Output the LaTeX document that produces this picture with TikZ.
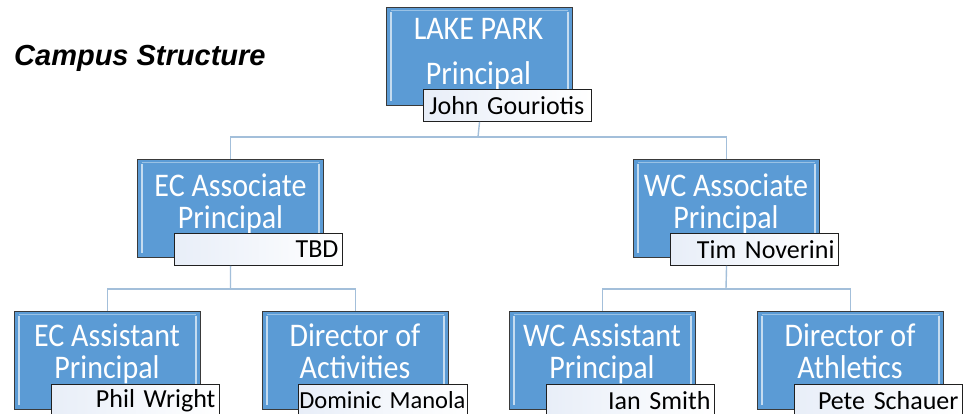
\documentclass[tikz,border=0pt]{standalone}
\usepackage{fontspec}
\usepackage{graphicx}
\setmainfont{Carlito}
\newfontfamily\titlefont{Liberation Sans}
\definecolor{boxblue}{HTML}{5B9BD5}
\definecolor{boxborder}{HTML}{3A3A3A}
\definecolor{bevel}{HTML}{C5DCF0}
\definecolor{namefillL}{HTML}{E8EEF8}
\definecolor{namefillR}{HTML}{FFFFFF}
\definecolor{nameborder}{HTML}{202020}
\definecolor{connline}{HTML}{A3BFDA}
\newcommand{\tallstack}[2]{\scalebox{1}[1.1]{\fontsize{30}{#1}\selectfont\begin{tabular}{@{}c@{}}#2\end{tabular}}}
\newcommand{\nm}[1]{\makebox[\linewidth][r]{#1}}
\begin{document}
\begin{tikzpicture}[x=1pt,y=-1pt,
  orgbox/.style={draw=boxborder, fill=boxblue, line width=1.1pt, minimum width=186pt, minimum height=98pt, anchor=north west, inner sep=0pt},
  bevelline/.style={draw=bevel, line width=1.6pt},
  boxtext/.style={text=white, inner sep=0pt},
  namebox/.style={draw=nameborder, left color=namefillL, right color=namefillR, line width=0.9pt, minimum height=32pt, text width=160pt, inner xsep=4pt, inner ysep=0pt, anchor=north west, font=\fontsize{26}{28}\selectfont},
  conn/.style={draw=connline, line width=1.4pt},
  titletext/.style={font=\titlefont\bfseries\itshape\fontsize{29}{32}\selectfont, anchor=base west, inner sep=0pt}
]
\useasboundingbox (0,0) rectangle (970,414);
\fill[white] (0,0) rectangle (970,414);

\newcommand{\bevelbox}[1]{%
  \draw[bevelline] ([xshift=5pt,yshift=-5pt]#1.north west) -- ([xshift=5pt,yshift=5pt]#1.south west);
  \draw[bevelline] ([xshift=-5pt,yshift=-5pt]#1.north east) -- ([xshift=-5pt,yshift=5pt]#1.south east);
  \draw[draw=bevel, line width=0.6pt, opacity=0.6] ([xshift=5pt,yshift=-3pt]#1.north west) -- ([xshift=-5pt,yshift=-3pt]#1.north east);
}

\node[titletext] (title) at (14,66) {Campus Structure};

\coordinate (busTop) at (478,137);
\coordinate (busEC) at (230.5,289);
\coordinate (busWC) at (726,289);

% boxes
\node[orgbox] (top) at (386,7) {};
\node[orgbox] (eca) at (137,159) {};
\node[orgbox] (wca) at (633,159) {};
\node[orgbox] (ecasst) at (14,311) {};
\node[orgbox] (doact) at (262,311) {};
\node[orgbox] (wcasst) at (509,311) {};
\node[orgbox] (doath) at (757,311) {};

\draw[conn] (busTop) -| (eca.north);
\draw[conn] (busTop) -| (wca.north);
\draw[conn] (busEC) -| (ecasst.north);
\draw[conn] (busEC) -| (doact.north);
\draw[conn] (busWC) -| (wcasst.north);
\draw[conn] (busWC) -| (doath.north);

\foreach \b in {top,eca,wca,ecasst,doact,wcasst,doath} {\bevelbox{\b}}

\node[boxtext] (topT) at (478.5,53) {\tallstack{41}{LAKE PARK\\Principal}};
\node[boxtext] (ecaT) at (230.5,206) {\tallstack{29}{EC Associate\\Principal}};
\node[boxtext] (wcaT) at (726,206) {\tallstack{29}{WC Associate\\Principal}};
\node[boxtext] (ecasstT) at (107,356) {\tallstack{29}{EC Assistant\\Principal}};
\node[boxtext] (doactT) at (355,356) {\tallstack{29}{Director of\\Activities}};
\node[boxtext] (wcasstT) at (602,356) {\tallstack{29}{WC Assistant\\Principal}};
\node[boxtext] (doathT) at (850,356) {\tallstack{29}{Director of\\Athletics}};

% name boxes
\node[namebox, inner xsep=7pt, text width=154pt] (jg) at (423,89) {\nm{John Gouriotis}};
\node[namebox] (tbd) at (174,233) {\nm{TBD}};
\node[namebox] (tn) at (670,233) {\nm{Tim Noverini}};
\node[namebox] (pw) at (51,384) {\nm{Phil Wright}};
\node[namebox, inner xsep=2pt, text width=165pt, font=\fontsize{24.5}{28}\selectfont] (dm) at (298,384) {\nm{Dominic Manola}};
\node[namebox] (is) at (546,384) {\nm{Ian Smith}};
\node[namebox] (ps) at (794,384) {\nm{Pete Schauer}};

\draw[conn] (jg.south -| top.south) -- (busTop);
\draw[conn] (tbd.south -| eca.south) -- (busEC);
\draw[conn] (tn.south -| wca.south) -- (busWC);
\end{tikzpicture}
\end{document}
